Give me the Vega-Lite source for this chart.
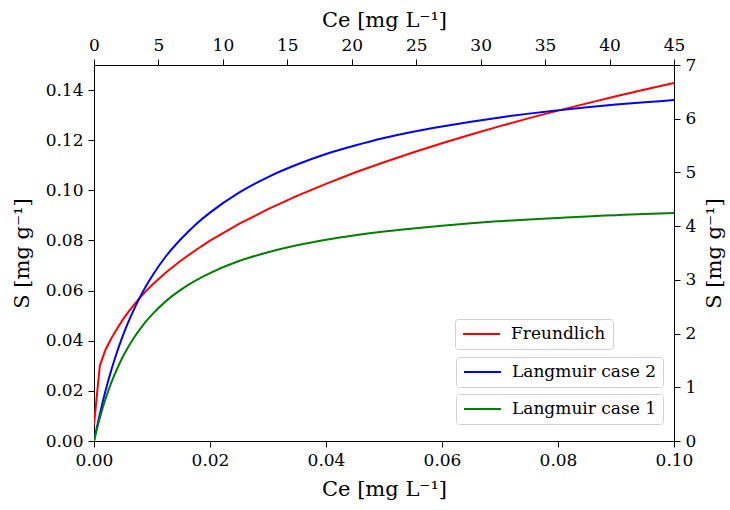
{
  "$schema": "https://vega.github.io/schema/vega-lite/v6.json",
  "width": 580,
  "height": 376,
  "autosize": {"type": "none"},
  "padding": {"left": 94, "top": 65, "right": 56, "bottom": 69},
  "background": "white",
  "config": {
    "view": {"stroke": null},
    "font": "DejaVu Serif",
    "axis": {
      "grid": false,
      "domainColor": "#000000",
      "domainWidth": 1,
      "tickColor": "#000000",
      "tickWidth": 1,
      "tickSize": 6,
      "labelColor": "#000000",
      "labelFont": "DejaVu Serif",
      "labelFontSize": 17,
      "labelPadding": 5,
      "labelFlush": false,
      "labelOverlap": false,
      "titleColor": "#000000",
      "titleFont": "DejaVu Serif",
      "titleFontSize": 21,
      "titleFontWeight": "normal"
    },
    "legend": {
      "orient": "none",
      "title": null,
      "symbolType": "stroke",
      "symbolSize": 1369,
      "symbolStrokeWidth": 2,
      "clipHeight": 16,
      "padding": 7,
      "labelFont": "DejaVu Serif",
      "labelFontSize": 17,
      "labelColor": "#000000",
      "labelOffset": 10,
      "fillColor": "#ffffff",
      "strokeColor": "#d0d0d0",
      "cornerRadius": 3
    }
  },
  "datasets": {
    "freundlich": [
      {"Ce": 0, "S": 0.0064}, {"Ce": 0.001, "S": 0.030}, {"Ce": 0.002, "S": 0.0365},
      {"Ce": 0.003, "S": 0.0410}, {"Ce": 0.004, "S": 0.0449}, {"Ce": 0.005, "S": 0.0485},
      {"Ce": 0.006, "S": 0.0517}, {"Ce": 0.007, "S": 0.0546}, {"Ce": 0.008, "S": 0.0574},
      {"Ce": 0.009, "S": 0.0599}, {"Ce": 0.01, "S": 0.0622},
      {"Ce": 0.0125, "S": 0.0674}, {"Ce": 0.015, "S": 0.0720}, {"Ce": 0.0175, "S": 0.0761},
      {"Ce": 0.02, "S": 0.0799}, {"Ce": 0.025, "S": 0.0866}, {"Ce": 0.03, "S": 0.0925},
      {"Ce": 0.035, "S": 0.0978}, {"Ce": 0.04, "S": 0.1026}, {"Ce": 0.045, "S": 0.1071},
      {"Ce": 0.05, "S": 0.1112}, {"Ce": 0.055, "S": 0.1151}, {"Ce": 0.06, "S": 0.1188},
      {"Ce": 0.065, "S": 0.1223}, {"Ce": 0.07, "S": 0.1256}, {"Ce": 0.075, "S": 0.1288},
      {"Ce": 0.08, "S": 0.1318}, {"Ce": 0.085, "S": 0.1347}, {"Ce": 0.09, "S": 0.1375},
      {"Ce": 0.095, "S": 0.1402}, {"Ce": 0.1, "S": 0.1428}
    ],
    "langmuir2": [
      {"Ce": 0, "S": 0}, {"Ce": 0.0005, "S": 0.0055}, {"Ce": 0.001, "S": 0.0107},
      {"Ce": 0.0015, "S": 0.0156}, {"Ce": 0.002, "S": 0.0201}, {"Ce": 0.003, "S": 0.0284},
      {"Ce": 0.004, "S": 0.0357}, {"Ce": 0.005, "S": 0.0421}, {"Ce": 0.006, "S": 0.0479},
      {"Ce": 0.007, "S": 0.0530}, {"Ce": 0.008, "S": 0.0577}, {"Ce": 0.009, "S": 0.0619},
      {"Ce": 0.01, "S": 0.0657}, {"Ce": 0.0125, "S": 0.0740}, {"Ce": 0.015, "S": 0.0806},
      {"Ce": 0.0175, "S": 0.0863}, {"Ce": 0.02, "S": 0.0911}, {"Ce": 0.025, "S": 0.0991},
      {"Ce": 0.03, "S": 0.1053}, {"Ce": 0.035, "S": 0.1103}, {"Ce": 0.04, "S": 0.1145},
      {"Ce": 0.045, "S": 0.1179}, {"Ce": 0.05, "S": 0.1209}, {"Ce": 0.055, "S": 0.1234},
      {"Ce": 0.06, "S": 0.1255}, {"Ce": 0.065, "S": 0.1274}, {"Ce": 0.07, "S": 0.1291},
      {"Ce": 0.075, "S": 0.1306}, {"Ce": 0.08, "S": 0.1319}, {"Ce": 0.085, "S": 0.1331},
      {"Ce": 0.09, "S": 0.1342}, {"Ce": 0.095, "S": 0.1351}, {"Ce": 0.1, "S": 0.1360}
    ],
    "langmuir1": [
      {"Ce": 0, "S": 0}, {"Ce": 0.0005, "S": 0.0048}, {"Ce": 0.001, "S": 0.0092},
      {"Ce": 0.0015, "S": 0.0132}, {"Ce": 0.002, "S": 0.0169}, {"Ce": 0.003, "S": 0.0234},
      {"Ce": 0.004, "S": 0.0289}, {"Ce": 0.005, "S": 0.0337}, {"Ce": 0.006, "S": 0.0379},
      {"Ce": 0.007, "S": 0.0416}, {"Ce": 0.008, "S": 0.0448}, {"Ce": 0.009, "S": 0.0478},
      {"Ce": 0.01, "S": 0.0504}, {"Ce": 0.0125, "S": 0.0560}, {"Ce": 0.015, "S": 0.0604},
      {"Ce": 0.0175, "S": 0.0640}, {"Ce": 0.02, "S": 0.0670}, {"Ce": 0.025, "S": 0.0718},
      {"Ce": 0.03, "S": 0.0753}, {"Ce": 0.035, "S": 0.0781}, {"Ce": 0.04, "S": 0.0803},
      {"Ce": 0.045, "S": 0.0821}, {"Ce": 0.05, "S": 0.0836}, {"Ce": 0.055, "S": 0.0848},
      {"Ce": 0.06, "S": 0.0859}, {"Ce": 0.065, "S": 0.0869}, {"Ce": 0.07, "S": 0.0877},
      {"Ce": 0.075, "S": 0.0884}, {"Ce": 0.08, "S": 0.0890}, {"Ce": 0.085, "S": 0.0896},
      {"Ce": 0.09, "S": 0.0901}, {"Ce": 0.095, "S": 0.0906}, {"Ce": 0.1, "S": 0.0910}
    ],
    "secondary": [
      {"Ce_top": 0, "S_right": 0},
      {"Ce_top": 45, "S_right": 7}
    ]
  },
  "layer": [
    {
      "data": {"name": "freundlich"},
      "mark": {"type": "line", "strokeWidth": 2, "clip": true},
      "encoding": {
        "x": {"field": "Ce", "type": "quantitative",
              "scale": {"domain": [0, 0.1], "nice": false, "zero": false},
              "axis": {"title": "Ce [mg L⁻¹]", "values": [0, 0.02, 0.04, 0.06, 0.08, 0.1], "format": ".2f", "titlePadding": 10}},
        "y": {"field": "S", "type": "quantitative",
              "scale": {"domain": [0, 0.15], "nice": false, "zero": false},
              "axis": {"title": "S [mg g⁻¹]", "values": [0, 0.02, 0.04, 0.06, 0.08, 0.1, 0.12, 0.14], "format": ".2f", "titlePadding": 13}},
        "color": {"datum": "Freundlich", "type": "nominal",
                  "scale": {"domain": ["Freundlich"], "range": ["#ff0000"]},
                  "legend": {"legendX": 361, "legendY": 254}}
      }
    },
    {
      "data": {"name": "langmuir2"},
      "mark": {"type": "line", "strokeWidth": 2, "interpolate": "monotone", "clip": true},
      "encoding": {
        "x": {"field": "Ce", "type": "quantitative",
              "scale": {"domain": [0, 0.1], "nice": false, "zero": false}, "axis": null},
        "y": {"field": "S", "type": "quantitative",
              "scale": {"domain": [0, 0.15], "nice": false, "zero": false}, "axis": null},
        "color": {"datum": "Langmuir case 2", "type": "nominal",
                  "scale": {"domain": ["Langmuir case 2"], "range": ["#0000ff"]},
                  "legend": {"legendX": 362, "legendY": 292}}
      }
    },
    {
      "data": {"name": "langmuir1"},
      "mark": {"type": "line", "strokeWidth": 2, "interpolate": "monotone", "clip": true},
      "encoding": {
        "x": {"field": "Ce", "type": "quantitative",
              "scale": {"domain": [0, 0.1], "nice": false, "zero": false}, "axis": null},
        "y": {"field": "S", "type": "quantitative",
              "scale": {"domain": [0, 0.15], "nice": false, "zero": false}, "axis": null},
        "color": {"datum": "Langmuir case 1", "type": "nominal",
                  "scale": {"domain": ["Langmuir case 1"], "range": ["#008000"]},
                  "legend": {"legendX": 362, "legendY": 329}}
      }
    },
    {
      "data": {"name": "secondary"},
      "mark": {"type": "point", "opacity": 0},
      "encoding": {
        "x": {"field": "Ce_top", "type": "quantitative",
              "scale": {"domain": [0, 45], "nice": false, "zero": false},
              "axis": {"orient": "top", "title": "Ce [mg L⁻¹]", "values": [0, 5, 10, 15, 20, 25, 30, 35, 40, 45], "titlePadding": 6}},
        "y": {"field": "S_right", "type": "quantitative",
              "scale": {"domain": [0, 7], "nice": false, "zero": false},
              "axis": {"orient": "right", "title": "S [mg g⁻¹]", "titleAngle": 270, "titleBaseline": "top", "values": [0, 1, 2, 3, 4, 5, 6, 7], "titlePadding": 8}}
      }
    }
  ],
  "resolve": {
    "scale": {"x": "independent", "y": "independent", "color": "independent"},
    "axis": {"x": "independent", "y": "independent"},
    "legend": {"color": "independent"}
  }
}
